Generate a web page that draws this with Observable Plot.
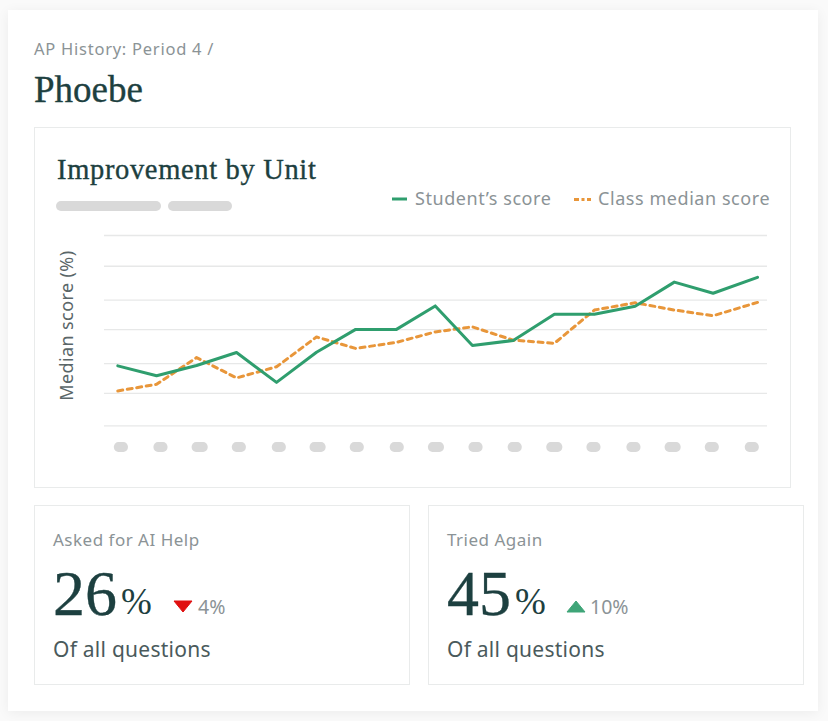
<!DOCTYPE html>
<html>
<head>
<meta charset="utf-8">
<script src="https://cdn.jsdelivr.net/npm/d3@7"></script>
<script src="https://cdn.jsdelivr.net/npm/@observablehq/plot@0.6"></script>
<style>
  html, body { margin: 0; padding: 0; background: #fafafa; }
  body { width: 828px; height: 721px; position: relative; overflow: hidden; font-family: "Noto Sans", sans-serif; }
  .abs { position: absolute; white-space: nowrap; line-height: 1; }
  .card { position: absolute; left: 8px; top: 10px; width: 810px; height: 701px; background: #fff; box-shadow: 0 2px 12px rgba(0,0,0,.06); }
  .box { position: absolute; box-sizing: border-box; background: #fff; border: 1.5px solid #e9ebeb; }
  .serif { font-family: "Liberation Serif", serif; color: #1d4040; -webkit-text-stroke: .35px #1d4040; }
  .grey { color: #8b9396; }
  .pill { position: absolute; background: #d9d9d9; border-radius: 5px; height: 10px; top: 201px; }
  #chart { position: absolute; left: 34px; top: 226px; }
  #chart svg { display: block; background: transparent; }
  #chart svg text { letter-spacing: .4px; }
  #shapes { position: absolute; left: 0; top: 0; pointer-events: none; }
</style>
</head>
<body>
<div class="card"></div>
<div class="box" style="left:34px;top:127px;width:757px;height:361px"></div>
<div id="page"></div>
<div id="chart"></div>
<svg id="shapes" width="828" height="721"></svg>
<script>
const breadcrumb = "AP History: Period 4 /";
const studentName = "Phoebe";
const chartTitle = "Improvement by Unit";
const yLabel = "Median score (%)";
const seriesNames = ["Student\u2019s score", "Class median score"];

const unitPositions = [0, 0.97, 1.97, 2.97, 3.97, 4.97, 5.95, 6.97, 7.94, 8.87, 9.89, 10.92, 11.92, 12.94, 13.92, 14.89, 16];
const studentScores = [18.9, 15.8, 19, 23.1, 13.7, 23.2, 30.4, 30.4, 37.8, 25.3, 26.9, 35.2, 35.2, 37.7, 45.3, 41.8, 46.8];
const classMedian = [11, 13.1, 21.5, 15.1, 18.6, 28, 24.4, 26.3, 29.6, 31.2, 27, 26, 36.5, 38.8, 36.5, 34.7, 38.9];
const gridValues = [0, 10.2, 19.6, 30.3, 39.6, 50.3, 60];

const tickPillPositions = [0.09, 1.08, 2.06, 3.04, 4.04, 5.01, 5.99, 6.99, 7.97, 8.96, 9.94, 10.93, 11.91, 12.91, 13.89, 14.87, 15.87];
const tickPillWidths = [0.35, 0.35, 0.4, 0.35, 0.35, 0.4, 0.35, 0.35, 0.4, 0.35, 0.35, 0.4, 0.35, 0.35, 0.4, 0.35, 0.35];

const kpiTitles = ["Asked for AI Help", "Tried Again"];
const kpiValues = ["26", "45"];
const kpiDeltas = ["4%", "10%"];
const kpiDirections = ["down", "up"];
const kpiNote = "Of all questions";

const green = "#2f9e6e", orange = "#e8963a";

const rows = unitPositions.map((u, i) => ({u, student: studentScores[i], median: classMedian[i]}));
const pills = tickPillPositions.map((u, i) => ({u, w: tickPillWidths[i]}));

const chart = Plot.plot({
  width: 757,
  height: 232,
  marginLeft: 70,
  marginRight: 24,
  marginTop: 9,
  marginBottom: 32.7,
  x: {axis: null, domain: [0, 16], range: [83.3, 723]},
  y: {axis: null, domain: [0, 60], range: [199.3, 9]},
  marks: [
    Plot.ruleY(gridValues, {stroke: "#e7e8e8", strokeWidth: 1.3}),
    Plot.rect(pills, {x1: d => d.u - d.w / 2, x2: d => d.u + d.w / 2, y1: -5.3, y2: -8.4, fill: "#d9d9d9", rx: 4.5}),
    Plot.line(rows, {x: "u", y: "median", stroke: orange, strokeWidth: 3, strokeDasharray: "5,4.6"}),
    Plot.line(rows, {x: "u", y: "student", stroke: green, strokeWidth: 3}),
    Plot.text([yLabel], {frameAnchor: "left", textAnchor: "middle", dx: -37, dy: -5, rotate: -90, fontSize: 18, fill: "#5a6668", fontFamily: "Noto Sans, sans-serif"})
  ]
});
document.getElementById("chart").appendChild(chart);

const page = d3.select("#page");
function text(str, left, top, size, cls, extra) {
  const el = page.append("div").attr("class", "abs " + cls).text(str);
  el.attr("style", `left:${left}px;top:${top}px;font-size:${size}px;${extra || ""}`);
  return el;
}

text(breadcrumb, 34, 41, 16.5, "grey", "letter-spacing:.75px");
text(studentName, 34, 71, 37, "serif");
text(chartTitle, 57, 156, 28.5, "serif", "letter-spacing:.66px");
page.append("div").attr("class", "pill").style("left", "56px").style("width", "105px");
page.append("div").attr("class", "pill").style("left", "168px").style("width", "64px");

// legend
const shapes = d3.select("#shapes");
shapes.append("line").attr("x1", 392).attr("x2", 407).attr("y1", 199).attr("y2", 199).attr("stroke", green).attr("stroke-width", 3);
shapes.append("line").attr("x1", 574).attr("x2", 591).attr("y1", 199.5).attr("y2", 199.5).attr("stroke", orange).attr("stroke-width", 3).attr("stroke-dasharray", "5,2.5,3,2.5");
text(seriesNames[0], 415, 189, 18, "grey", "letter-spacing:.56px");
text(seriesNames[1], 598, 189, 18, "grey", "letter-spacing:.56px");

// KPI boxes
[0, 1].forEach(i => {
  const x = i === 0 ? 34 : 428;
  const tx = x + 19;
  page.append("div").attr("class", "box").style("left", x + "px").style("top", "505px").style("width", "376px").style("height", "180px");
  text(kpiTitles[i], tx, 531, 17, "grey", "letter-spacing:.5px");
  text(kpiValues[i], tx, 562, 64, "serif");
  text("%", tx + 68, 583, 37, "serif", "-webkit-text-stroke:0");
  const triX = tx + 121, up = kpiDirections[i] === "up";
  shapes.append("path")
    .attr("d", up ? `M${triX - 1} 612 L${triX + 17} 612 L${triX + 8} 601 Z` : `M${triX} 601 L${triX + 18} 601 L${triX + 9} 612 Z`)
    .attr("fill", up ? "#3fa578" : "#e01010").attr("stroke", up ? "#3fa578" : "#e01010").attr("stroke-linejoin", "round");
  text(kpiDeltas[i], tx + (up ? 143 : 145), 597, 19.5, "grey");
  text(kpiNote, tx, 639, 21, "", "color:#4a5a5c;letter-spacing:.25px");
});
</script>
</body>
</html>
